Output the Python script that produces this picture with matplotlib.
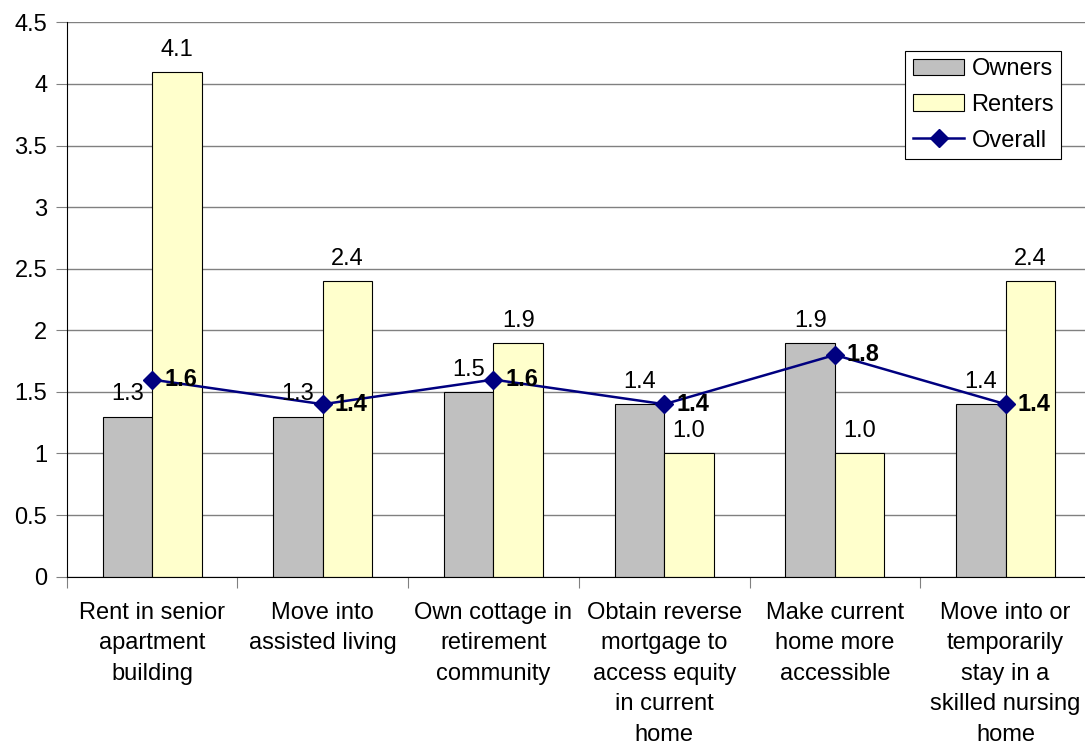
import matplotlib.pyplot as plt
import numpy as np

categories = [
    "Rent in senior\napartment\nbuilding",
    "Move into\nassisted living",
    "Own cottage in\nretirement\ncommunity",
    "Obtain reverse\nmortgage to\naccess equity\nin current\nhome",
    "Make current\nhome more\naccessible",
    "Move into or\ntemporarily\nstay in a\nskilled nursing\nhome",
]
owners = [1.3, 1.3, 1.5, 1.4, 1.9, 1.4]
renters = [4.1, 2.4, 1.9, 1.0, 1.0, 2.4]
overall = [1.6, 1.4, 1.6, 1.4, 1.8, 1.4]
yticklabels = ["0", "0.5", "1", "1.5", "2", "2.5", "3", "3.5", "4", "4.5"]

plt.rcParams["font.family"] = ["Liberation Sans", "DejaVu Sans"]
plt.rcParams["font.size"] = 17

fig = plt.figure(figsize=(10.85, 7.46), dpi=100)
ax = fig.add_axes([0.0615, 0.227, 0.944, 0.743])

x = np.arange(len(categories))
w = 0.29
b1 = ax.bar(x - w / 2, owners, w, color="#c0c0c0", edgecolor="black", linewidth=0.8,
            label="Owners", zorder=2)
b2 = ax.bar(x + w / 2, renters, w, color="#ffffcc", edgecolor="black", linewidth=0.8,
            label="Renters", zorder=2)
ln, = ax.plot(x, overall, color="#000080", marker="D", markersize=9, linewidth=1.8,
              label="Overall", zorder=3)

for xi, v in zip(x, owners):
    ax.text(xi - w / 2, v + 0.09, f"{v:.1f}", ha="center", va="bottom")
for xi, v in zip(x, renters):
    ax.text(xi + w / 2, v + 0.09, f"{v:.1f}", ha="center", va="bottom")
for xi, v in zip(x, overall):
    ax.text(xi + 0.07, v, f"{v:.1f}", ha="left", va="center", fontweight="bold",
            zorder=4)

ax.set_xlim(-0.5, len(categories) - 0.5)
ax.set_ylim(0, 4.5)
ax.set_yticks(np.arange(0, 4.51, 0.5))
ax.set_yticklabels(yticklabels)
ax.yaxis.grid(True, color="#808080", linewidth=1.0, zorder=0)
ax.set_axisbelow(True)

ax.set_xticks(np.arange(-0.5, len(categories), 1.0))
ax.set_xticklabels([])
ax.set_xticks(x, minor=True)
ax.set_xticklabels(categories, minor=True, linespacing=1.5)
ax.tick_params(axis="x", which="minor", length=0, pad=18)
ax.tick_params(axis="x", which="major", length=8, direction="out", color="#808080")
ax.tick_params(axis="y", length=8, direction="out", color="#808080", pad=6)

for s in ["top", "right"]:
    ax.spines[s].set_visible(False)
ax.spines["left"].set_color("black")
ax.spines["bottom"].set_color("black")

leg = ax.legend(handles=[b1, b2, ln], loc="upper right", bbox_to_anchor=(0.971, 0.948),
                frameon=True, fancybox=False, edgecolor="black", framealpha=1,
                handlelength=2.2, handleheight=0.7, borderpad=0.3, labelspacing=0.58,
                handletextpad=0.3, borderaxespad=0)
leg.get_frame().set_linewidth(0.8)

fig.savefig("out.png", dpi=100)
